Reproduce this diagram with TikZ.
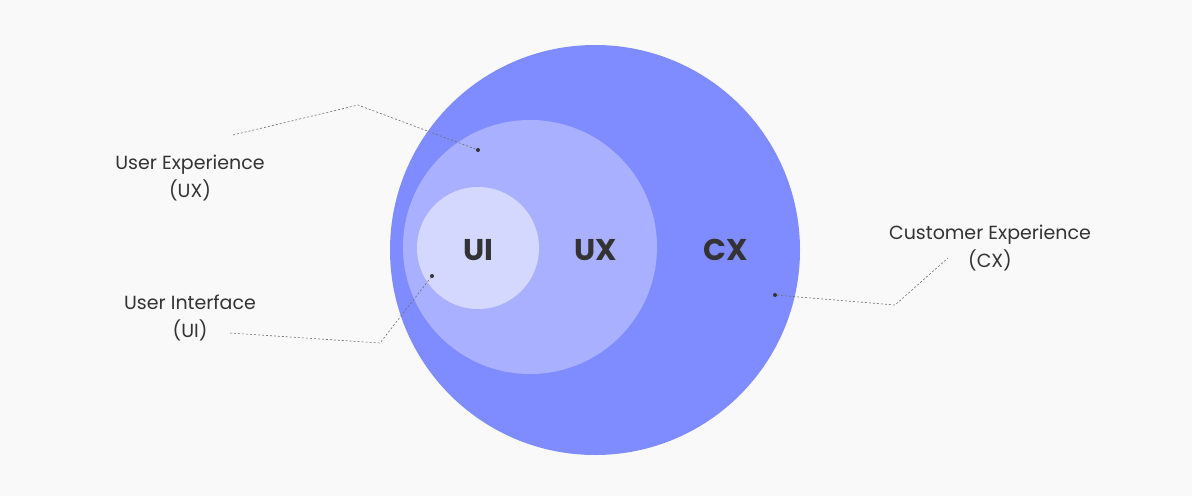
\documentclass[tikz,border=0pt]{standalone}
\usepackage{fontspec}
\setmainfont{Poppins}
\definecolor{bg}{HTML}{F9F9F9}
\definecolor{cx}{HTML}{7F8CFF}
\definecolor{ux}{HTML}{A9B0FF}
\definecolor{ui}{HTML}{D4D8FF}
\definecolor{txt}{HTML}{333333}
\begin{document}
\begin{tikzpicture}[x=1pt,y=-1pt,
  lbl/.style={text=txt,font=\fontsize{19}{28}\selectfont,align=center},
  big/.style={text=txt,font=\fontsize{30}{30}\selectfont\bfseries},
  leader/.style={draw=txt!70,dash pattern=on 2pt off 2pt,line width=0.6pt},
  dotc/.style={circle,fill=txt,inner sep=0pt,minimum size=4pt}]
\fill[bg] (0,0) rectangle (1192,496);
\useasboundingbox (0,0) rectangle (1192,496);
\fill[cx] (595,250) circle (205);
\fill[ux] (530,247) circle (127);
\fill[ui] (478,248) circle (61);
\node[big] (tui) at (478,250) {UI};
\node[big] (tux) at (596,250) {UX};
\node[big] (tcx) at (726,250) {CX};
\node[lbl] (lux) at (190,178) {User Experience\\(UX)};
\node[lbl] (lui) at (190,318) {User Interface\\(UI)};
\node[lbl] (lcx) at (990,248) {Customer Experience\\(CX)};
\node[dotc] (dux) at (478,150) {};
\node[dotc] (dui) at (432,276) {};
\node[dotc] (dcx) at (775,295) {};
\coordinate (a1) at (233,135);
\coordinate (a2) at (358,105);
\coordinate (b1) at (230,333);
\coordinate (b2) at (380,343);
\coordinate (c1) at (948,258);
\coordinate (c2) at (895,305);
\draw[leader] (a1) -- (a2) -- (dux);
\draw[leader] (b1) -- (b2) -- (dui);
\draw[leader] (dcx) -- (c2) -- (c1);
\end{tikzpicture}
\end{document}
